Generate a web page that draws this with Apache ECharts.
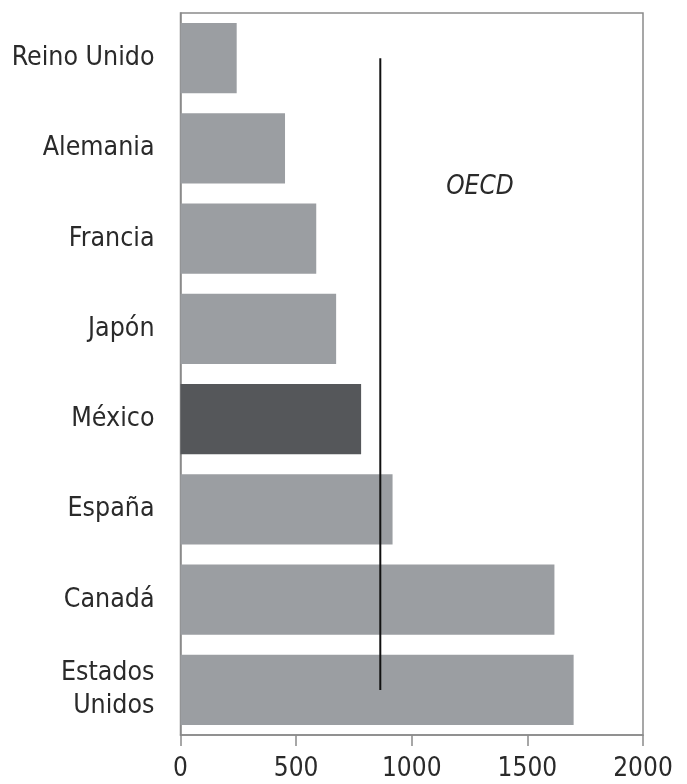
<!DOCTYPE html>
<html>
<head>
<meta charset="utf-8">
<script src="https://cdn.jsdelivr.net/npm/echarts@6/dist/echarts.min.js"></script>
<style>
html,body{margin:0;padding:0;background:#fff;}
#chart{width:687px;height:784px;}
</style>
</head>
<body>
<div id="chart"></div>
<script>
const categories = ['Reino Unido', 'Alemania', 'Francia', 'Japón', 'México', 'España', 'Canadá', 'Estados\nUnidos'];
const values = [243, 452, 587, 673, 781, 917, 1617, 1700];
const highlight = 'México';
const oecdValue = 864;
const oecdLabel = 'OECD';
const xTicks = [0, 500, 1000, 1500, 2000];

const FONT = "'Liberation Sans Narrow', 'DejaVu Sans Condensed', 'Liberation Sans', sans-serif";
const chart = echarts.init(document.getElementById('chart'));

const option = {
  animation: false,
  backgroundColor: '#ffffff',
  grid: {
    left: 180.5, right: 44, top: 13, bottom: 49,
    outerBoundsMode: 'none', containLabel: false,
    show: true, borderColor: '#8a8a8a', borderWidth: 1.5, backgroundColor: 'transparent'
  },
  xAxis: {
    type: 'value',
    min: xTicks[0], max: xTicks[xTicks.length - 1], interval: 500,
    axisLine: { show: true, lineStyle: { color: '#8a8a8a', width: 1.5 } },
    axisTick: { show: true, length: 11, lineStyle: { color: '#8a8a8a', width: 1.5 } },
    splitLine: { show: false },
    axisLabel: { margin: 21, fontFamily: FONT, fontSize: 26, color: '#2a2a2a', formatter: v => String(v) }
  },
  yAxis: {
    type: 'category',
    data: categories,
    inverse: true,
    axisLine: { show: true, lineStyle: { color: '#8a8a8a', width: 1.5 } },
    axisTick: { show: false },
    axisLabel: { margin: 26, fontFamily: FONT, fontSize: 26.5, color: '#2a2a2a', lineHeight: 33 }
  },
  series: [
    {
      type: 'bar',
      barCategoryGap: '22%',
      data: values.map((v, i) => ({
        value: v,
        itemStyle: { color: categories[i] === highlight ? '#55575a' : '#9b9ea2' }
      })),
      silent: true
    },
    {
      type: 'line',
      data: [[oecdValue, categories[0]], [oecdValue, categories[categories.length - 1]]],
      symbol: 'none',
      lineStyle: { color: '#111', width: 2 },
      z: 5,
      silent: true
    }
  ]
};
chart.setOption(option);

// OECD annotation placed via data coordinates
const p1 = chart.convertToPixel({ gridIndex: 0 }, [1295, categories[1]]);
const p2 = chart.convertToPixel({ gridIndex: 0 }, [1295, categories[2]]);
chart.setOption({
  graphic: [{
    type: 'text',
    x: p1[0], y: (p1[1] + p2[1]) / 2 - 6,
    style: {
      text: oecdLabel, fontFamily: FONT, fontStyle: 'italic', fontSize: 26,
      fill: '#2a2a2a', align: 'center', verticalAlign: 'middle'
    }
  }]
});
</script>
</body>
</html>
